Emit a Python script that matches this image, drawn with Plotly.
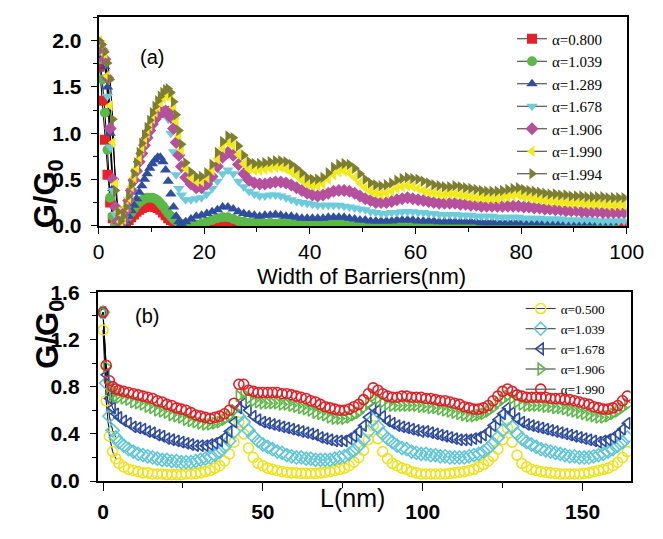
import plotly.graph_objects as go

# ---------------- panel (a) data ----------------
x_top = [round(0.2 + 0.5 * i, 1) for i in range(32)] + [16.5 + i for i in range(84)]

alpha_top = ["α=0.800", "α=1.039", "α=1.289", "α=1.678", "α=1.906", "α=1.990", "α=1.994"]

g_red = [1.72, 1.35, 0.93, 0.55, 0.25, 0.08, 0.01, 0.0, 0.01, 0.02, 0.04, 0.06, 0.09, 0.12, 0.15, 0.17,
         0.19, 0.2, 0.21, 0.21, 0.21, 0.2, 0.19, 0.17, 0.14, 0.11, 0.08, 0.06, 0.04, 0.02, 0.01, 0.0,
         0.0, 0.0, 0.0, 0.0, 0.01, 0.02, 0.03, 0.04, 0.04, 0.03, 0.02, 0.01,
         0.01, 0.01, 0.01, 0.01, 0.01, 0.01, 0.01, 0.01, 0.01, 0.01, 0.01, 0.01, 0.01, 0.01, 0.01, 0.01,
         0.01, 0.01, 0.01, 0.01, 0.01, 0.01, 0.0, 0.0, 0.0, 0.0, 0.0, 0.0, 0.0, 0.0, 0.0, 0.0,
         0.0, 0.0, 0.0, 0.0, 0.0, 0.0, 0.0, 0.0, 0.0, 0.0, 0.0, 0.0, 0.0, 0.0, 0.0, 0.0,
         0.0, 0.0, 0.0, 0.0, 0.0, 0.0, 0.0, 0.0, 0.0, 0.0, 0.0, 0.0, 0.0, 0.0, 0.0, 0.0,
         0.0, 0.0, 0.0, 0.0, 0.0, 0.0, 0.0, 0.0]
g_green = [1.8, 1.58, 1.22, 0.82, 0.3, 0.1, 0.02, 0.0, 0.01, 0.03, 0.06, 0.1, 0.14, 0.18, 0.22, 0.25,
           0.27, 0.29, 0.3, 0.3, 0.3, 0.29, 0.27, 0.24, 0.21, 0.17, 0.13, 0.1, 0.07, 0.05, 0.03, 0.02,
           0.01, 0.0, 0.01, 0.02, 0.04, 0.06, 0.08, 0.09, 0.09, 0.07, 0.05, 0.04, 0.03, 0.03,
           0.03, 0.02, 0.03, 0.02, 0.03, 0.02, 0.03, 0.02, 0.02, 0.02, 0.03, 0.02, 0.02, 0.02, 0.02, 0.02,
           0.02, 0.02, 0.02, 0.02, 0.02, 0.01, 0.02, 0.01, 0.02, 0.01, 0.02, 0.01, 0.01, 0.02, 0.01, 0.01,
           0.02, 0.01, 0.01, 0.01, 0.02, 0.01, 0.01, 0.01, 0.01, 0.01, 0.01, 0.01, 0.01, 0.01, 0.01, 0.01,
           0.01, 0.01, 0.01, 0.01, 0.01, 0.01, 0.01, 0.01, 0.01, 0.01, 0.01, 0.01, 0.01, 0.01, 0.01, 0.01,
           0.01, 0.01, 0.01, 0.01]
g_blue = [1.88, 1.82, 1.72, 1.5, 1.0, 0.4, 0.16, 0.05, 0.01, 0.02, 0.05, 0.1, 0.16, 0.22, 0.29, 0.36,
          0.43, 0.5, 0.56, 0.62, 0.67, 0.71, 0.74, 0.74, 0.69, 0.6, 0.48, 0.34, 0.2, 0.1, 0.04, 0.02,
          0.04, 0.07, 0.1, 0.11, 0.13, 0.15, 0.17, 0.2, 0.2, 0.18, 0.15, 0.13, 0.12, 0.11,
          0.1, 0.11, 0.11, 0.12, 0.11, 0.1, 0.1, 0.09, 0.08, 0.08, 0.08, 0.08, 0.08, 0.09, 0.09, 0.09,
          0.09, 0.08, 0.07, 0.06, 0.06, 0.05, 0.05, 0.05, 0.05, 0.05, 0.06, 0.06, 0.06, 0.06, 0.05, 0.05,
          0.05, 0.05, 0.04, 0.04, 0.04, 0.04, 0.04, 0.04, 0.04, 0.04, 0.03, 0.03, 0.03, 0.03, 0.03, 0.03,
          0.03, 0.03, 0.03, 0.03, 0.03, 0.03, 0.03, 0.03, 0.03, 0.03, 0.03, 0.03, 0.03, 0.03, 0.03, 0.03,
          0.03, 0.03, 0.03, 0.03]
g_cyan = [1.92, 1.88, 1.78, 1.4, 0.85, 0.38, 0.12, 0.03, 0.02, 0.08, 0.18, 0.28, 0.38, 0.48, 0.58, 0.67,
          0.76, 0.85, 0.93, 1.0, 1.07, 1.13, 1.17, 1.2, 1.22, 1.22, 1.15, 1.0, 0.8, 0.55, 0.4, 0.33,
          0.28, 0.28, 0.29, 0.3, 0.34, 0.4, 0.48, 0.56, 0.6, 0.56, 0.48, 0.42, 0.37, 0.34,
          0.32, 0.32, 0.33, 0.33, 0.32, 0.3, 0.28, 0.26, 0.25, 0.24, 0.23, 0.22, 0.22, 0.22, 0.22, 0.22,
          0.21, 0.2, 0.19, 0.18, 0.17, 0.15, 0.14, 0.13, 0.13, 0.14, 0.14, 0.15, 0.15, 0.15, 0.14, 0.14,
          0.13, 0.13, 0.12, 0.12, 0.12, 0.12, 0.11, 0.11, 0.11, 0.1, 0.1, 0.1, 0.1, 0.09, 0.09, 0.09,
          0.09, 0.09, 0.08, 0.08, 0.08, 0.08, 0.07, 0.07, 0.07, 0.07, 0.06, 0.06, 0.06, 0.06, 0.06, 0.06,
          0.05, 0.05, 0.05, 0.05, 0.05, 0.05]
g_mag = [1.95, 1.9, 1.8, 1.6, 1.05, 0.5, 0.2, 0.05, 0.02, 0.06, 0.16, 0.27, 0.38, 0.49, 0.59, 0.69,
         0.78, 0.87, 0.95, 1.03, 1.1, 1.15, 1.19, 1.22, 1.23, 1.24, 1.23, 1.17, 1.05, 0.9, 0.76, 0.64,
         0.52, 0.45, 0.41, 0.41, 0.45, 0.53, 0.64, 0.74, 0.79, 0.76, 0.66, 0.56, 0.49, 0.46,
         0.45, 0.45, 0.46, 0.47, 0.47, 0.46, 0.44, 0.41, 0.38, 0.35, 0.33, 0.32, 0.33, 0.35, 0.37, 0.38,
         0.38, 0.37, 0.35, 0.32, 0.29, 0.27, 0.25, 0.25, 0.25, 0.26, 0.28, 0.29, 0.3, 0.29, 0.28, 0.27,
         0.26, 0.25, 0.24, 0.24, 0.24, 0.24, 0.23, 0.23, 0.22, 0.22, 0.21, 0.21, 0.21, 0.21, 0.21, 0.21,
         0.21, 0.21, 0.2, 0.2, 0.19, 0.19, 0.18, 0.18, 0.17, 0.17, 0.16, 0.16, 0.16, 0.15, 0.15, 0.15,
         0.15, 0.14, 0.14, 0.14, 0.14, 0.14]
g_yel = [2.0, 1.95, 1.85, 1.62, 1.3, 0.9, 0.45, 0.15, 0.04, 0.07, 0.2, 0.3, 0.42, 0.52, 0.62, 0.72,
         0.82, 0.91, 1.0, 1.08, 1.16, 1.23, 1.29, 1.34, 1.38, 1.41, 1.42, 1.38, 1.28, 1.13, 0.97, 0.82,
         0.62, 0.52, 0.48, 0.48, 0.52, 0.6, 0.72, 0.84, 0.9, 0.87, 0.77, 0.67, 0.61, 0.6,
         0.6, 0.61, 0.62, 0.63, 0.63, 0.61, 0.58, 0.54, 0.49, 0.45, 0.43, 0.43, 0.45, 0.5, 0.55, 0.58,
         0.59, 0.57, 0.52, 0.46, 0.41, 0.37, 0.35, 0.34, 0.35, 0.37, 0.4, 0.42, 0.43, 0.42, 0.4, 0.38,
         0.36, 0.35, 0.34, 0.33, 0.34, 0.34, 0.33, 0.32, 0.31, 0.3, 0.3, 0.29, 0.29, 0.29, 0.3, 0.31,
         0.32, 0.33, 0.31, 0.3, 0.29, 0.28, 0.27, 0.26, 0.26, 0.25, 0.25, 0.24, 0.24, 0.24, 0.23, 0.23,
         0.23, 0.23, 0.22, 0.22, 0.22, 0.22]
g_olv = [2.0, 1.96, 1.88, 1.76, 1.58, 1.15, 0.38, 0.15, 0.05, 0.1, 0.2, 0.32, 0.44, 0.56, 0.68, 0.79,
         0.89, 0.98, 1.06, 1.14, 1.22, 1.29, 1.35, 1.4, 1.44, 1.47, 1.48, 1.44, 1.34, 1.2, 1.03, 0.88,
         0.68, 0.58, 0.53, 0.53, 0.57, 0.66, 0.79, 0.91, 0.97, 0.95, 0.86, 0.76, 0.69, 0.67,
         0.67, 0.68, 0.69, 0.7, 0.7, 0.69, 0.66, 0.62, 0.57, 0.52, 0.5, 0.5, 0.52, 0.57, 0.63, 0.66,
         0.67, 0.66, 0.62, 0.56, 0.5, 0.46, 0.44, 0.43, 0.44, 0.46, 0.49, 0.51, 0.52, 0.51, 0.5, 0.48,
         0.46, 0.44, 0.43, 0.42, 0.42, 0.43, 0.42, 0.41, 0.4, 0.39, 0.38, 0.37, 0.37, 0.37, 0.38, 0.39,
         0.4, 0.41, 0.39, 0.38, 0.37, 0.36, 0.35, 0.34, 0.34, 0.33, 0.33, 0.32, 0.32, 0.32, 0.31, 0.31,
         0.31, 0.31, 0.3, 0.3, 0.3, 0.3]

# ---------------- panel (b) data ----------------
x_bot = [0, 1, 2, 3, 4, 5] + [6.5 + 1.5 * i for i in range(106)]

alpha_bot = ["α=0.500", "α=1.039", "α=1.678", "α=1.906", "α=1.990"]

b_yel = [1.28, 0.68, 0.38, 0.25, 0.19, 0.15, 0.12, 0.1, 0.09, 0.08, 0.07, 0.07, 0.06, 0.06, 0.06, 0.055,
         0.055, 0.055, 0.055, 0.06, 0.06, 0.065, 0.07, 0.08, 0.09, 0.11, 0.13, 0.17, 0.23, 0.33, 0.5, 0.4,
         0.28, 0.2, 0.15, 0.13, 0.11, 0.1, 0.09, 0.08, 0.075, 0.07, 0.07, 0.065, 0.065, 0.065, 0.065, 0.07,
         0.075, 0.08, 0.09, 0.1, 0.11, 0.13, 0.16, 0.2, 0.26, 0.35, 0.47, 0.36, 0.25, 0.19, 0.15, 0.13,
         0.11, 0.1, 0.08, 0.07, 0.06, 0.06, 0.06, 0.06, 0.06, 0.06, 0.065, 0.07, 0.075, 0.08, 0.09, 0.1,
         0.12, 0.14, 0.17, 0.21, 0.27, 0.35, 0.45, 0.33, 0.22, 0.15, 0.12, 0.1, 0.09, 0.08, 0.075, 0.07,
         0.065, 0.06, 0.06, 0.06, 0.06, 0.06, 0.065, 0.07, 0.08, 0.09, 0.1, 0.11, 0.13, 0.16, 0.2, 0.25]
b_cyan = [1.43, 0.83, 0.55, 0.43, 0.37, 0.33, 0.3, 0.27, 0.25, 0.23, 0.22, 0.21, 0.2, 0.19, 0.18, 0.18,
          0.17, 0.17, 0.16, 0.16, 0.16, 0.17, 0.18, 0.19, 0.2, 0.22, 0.25, 0.29, 0.34, 0.42, 0.55, 0.5,
          0.43, 0.38, 0.34, 0.31, 0.29, 0.27, 0.25, 0.24, 0.22, 0.21, 0.2, 0.2, 0.19, 0.19, 0.18, 0.18,
          0.18, 0.18, 0.19, 0.2, 0.21, 0.23, 0.26, 0.3, 0.35, 0.42, 0.52, 0.46, 0.4, 0.36, 0.33, 0.3,
          0.28, 0.27, 0.25, 0.24, 0.23, 0.23, 0.22, 0.22, 0.21, 0.21, 0.2, 0.2, 0.2, 0.2, 0.21, 0.22,
          0.23, 0.25, 0.28, 0.32, 0.37, 0.43, 0.52, 0.46, 0.4, 0.36, 0.33, 0.31, 0.29, 0.27, 0.26, 0.25,
          0.24, 0.23, 0.22, 0.21, 0.21, 0.2, 0.2, 0.2, 0.21, 0.22, 0.23, 0.25, 0.27, 0.3, 0.33, 0.37]
b_blue = [1.43, 0.9, 0.7, 0.62, 0.57, 0.54, 0.51, 0.49, 0.46, 0.45, 0.44, 0.42, 0.41, 0.39, 0.38, 0.36,
          0.35, 0.34, 0.33, 0.32, 0.31, 0.3, 0.3, 0.3, 0.31, 0.32, 0.34, 0.37, 0.42, 0.5, 0.62, 0.66,
          0.6, 0.55, 0.52, 0.5, 0.49, 0.48, 0.47, 0.46, 0.45, 0.44, 0.43, 0.42, 0.41, 0.4, 0.39, 0.37,
          0.36, 0.35, 0.34, 0.34, 0.34, 0.36, 0.38, 0.42, 0.47, 0.54, 0.62, 0.6, 0.55, 0.51, 0.49, 0.47,
          0.46, 0.45, 0.44, 0.43, 0.42, 0.42, 0.41, 0.4, 0.39, 0.38, 0.37, 0.36, 0.35, 0.35, 0.35, 0.36,
          0.37, 0.39, 0.42, 0.47, 0.52, 0.57, 0.62, 0.58, 0.53, 0.5, 0.48, 0.47, 0.46, 0.45, 0.44, 0.43,
          0.42, 0.41, 0.4, 0.39, 0.38, 0.37, 0.36, 0.35, 0.34, 0.33, 0.34, 0.35, 0.37, 0.4, 0.44, 0.49]
b_green = [1.43, 0.97, 0.8, 0.74, 0.72, 0.71, 0.7, 0.69, 0.67, 0.66, 0.65, 0.63, 0.62, 0.6, 0.59, 0.58,
           0.56, 0.55, 0.54, 0.52, 0.51, 0.5, 0.49, 0.48, 0.48, 0.49, 0.5, 0.52, 0.55, 0.6, 0.72, 0.74,
           0.7, 0.68, 0.67, 0.66, 0.66, 0.66, 0.66, 0.65, 0.65, 0.64, 0.63, 0.62, 0.61, 0.6, 0.58, 0.57,
           0.56, 0.54, 0.53, 0.53, 0.53, 0.54, 0.56, 0.58, 0.62, 0.66, 0.72, 0.7, 0.67, 0.65, 0.64, 0.64,
           0.64, 0.64, 0.64, 0.64, 0.63, 0.63, 0.62, 0.62, 0.61, 0.6, 0.59, 0.58, 0.57, 0.56, 0.55, 0.55,
           0.56, 0.57, 0.59, 0.62, 0.66, 0.69, 0.72, 0.7, 0.67, 0.65, 0.64, 0.64, 0.64, 0.64, 0.63, 0.63,
           0.62, 0.62, 0.61, 0.6, 0.59, 0.58, 0.57, 0.56, 0.55, 0.54, 0.54, 0.55, 0.57, 0.59, 0.62, 0.65]
b_red = [1.43, 0.98, 0.85, 0.8, 0.78, 0.77, 0.76, 0.75, 0.74, 0.73, 0.72, 0.71, 0.7, 0.68, 0.67, 0.65,
         0.64, 0.62, 0.61, 0.6, 0.58, 0.56, 0.55, 0.54, 0.53, 0.54, 0.55, 0.57, 0.6, 0.66, 0.82, 0.82,
         0.77, 0.76, 0.75, 0.75, 0.75, 0.75, 0.75, 0.74, 0.74, 0.73, 0.72, 0.71, 0.7, 0.68, 0.67, 0.65,
         0.63, 0.62, 0.61, 0.6, 0.6, 0.61, 0.63, 0.65, 0.69, 0.74, 0.79, 0.77, 0.74, 0.72, 0.71, 0.71,
         0.72, 0.72, 0.71, 0.71, 0.71, 0.7, 0.7, 0.69, 0.68, 0.68, 0.67, 0.66, 0.65, 0.63, 0.62, 0.61,
         0.61, 0.62, 0.64, 0.68, 0.72, 0.76, 0.78, 0.76, 0.73, 0.72, 0.71, 0.71, 0.71, 0.71, 0.71, 0.7,
         0.7, 0.7, 0.69, 0.69, 0.68, 0.67, 0.66, 0.65, 0.63, 0.62, 0.61, 0.61, 0.62, 0.64, 0.68, 0.72]

top_series = [g_red, g_green, g_blue, g_cyan, g_mag, g_yel, g_olv]
top_colors = ["#E8202A", "#5CB847", "#2F4E9F", "#6DCBDB", "#B5509D", "#F3EA1B", "#7E7E30"]
top_symbols = ["square", "circle", "triangle-up", "triangle-down", "diamond", "triangle-left", "triangle-right"]

bot_series = [b_yel, b_cyan, b_blue, b_green, b_red]
bot_colors = ["#F0E21B", "#5FC6D8", "#2D4A9C", "#5DB847", "#E41E26"]
bot_symbols = ["circle-open", "diamond-open", "triangle-left-open", "triangle-right-open", "circle-open"]

N_LINE_TOP = 9   # connecting black line visible only in the steep initial drop
N_LINE_BOT = 5

fig = go.Figure()

# panel (a): black connecting lines under markers
for ys in top_series:
    fig.add_trace(go.Scatter(x=x_top[:N_LINE_TOP], y=ys[:N_LINE_TOP], mode="lines",
                             line=dict(color="black", width=1), showlegend=False,
                             hoverinfo="skip", xaxis="x", yaxis="y"))
for name, ys, c, s in zip(alpha_top, top_series, top_colors, top_symbols):
    fig.add_trace(go.Scatter(
        x=x_top, y=ys, name=name, mode="markers", xaxis="x", yaxis="y",
        marker=dict(symbol=s, color=c, size=10, line=dict(width=0)), showlegend=False))
# legend entries for panel (a)
for name, c, s in zip(alpha_top, top_colors, top_symbols):
    fig.add_trace(go.Scatter(
        x=[None], y=[None], name=name, mode="lines+markers", xaxis="x", yaxis="y",
        line=dict(color="#333333", width=1),
        marker=dict(symbol=s, color=c, size=10, line=dict(width=0)), legend="legend"))

# panel (b)
for ys in bot_series:
    fig.add_trace(go.Scatter(x=x_bot[:N_LINE_BOT], y=ys[:N_LINE_BOT], mode="lines",
                             line=dict(color="black", width=1), showlegend=False,
                             hoverinfo="skip", xaxis="x2", yaxis="y2"))
for name, ys, c, s in zip(alpha_bot, bot_series, bot_colors, bot_symbols):
    fig.add_trace(go.Scatter(
        x=x_bot, y=ys, name=name, mode="markers", xaxis="x2", yaxis="y2",
        marker=dict(symbol=s, color=c, size=10, line=dict(width=1.6, color=c)), showlegend=False))
for name, c, s in zip(alpha_bot, bot_colors, bot_symbols):
    fig.add_trace(go.Scatter(
        x=[None], y=[None], name=name, mode="lines+markers", xaxis="x2", yaxis="y2",
        line=dict(color="#333333", width=1),
        marker=dict(symbol=s, color=c, size=10, line=dict(width=1.6, color=c)), legend="legend2"))

W, H = 663, 539
FONT = "Liberation Sans, Arial, sans-serif"
SERIF = "Liberation Serif, Times New Roman, serif"

def ax_common(**kw):
    d = dict(showline=True, linecolor="black", linewidth=1.5, mirror=True,
             ticks="outside", ticklen=6, tickwidth=1.3, tickcolor="black",
             showgrid=False, zeroline=False)
    d.update(kw)
    return d

def overlay(**kw):
    d = dict(showline=False, ticks="inside", ticklen=6, tickwidth=1.3, tickcolor="black",
             showticklabels=False, showgrid=False, zeroline=False)
    d.update(kw)
    return d

top_xr = [0, 100]
top_yr = [-0.01, 2.26]
bot_xr = [-1.7, 165]
bot_yr = [0, 1.6]

fig.update_layout(
    width=W, height=H, margin=dict(l=0, r=0, t=0, b=0),
    paper_bgcolor="white", plot_bgcolor="white",
    xaxis=ax_common(domain=[96 / W, 644 / W], anchor="y", range=top_xr, dtick=20,
                    tickfont=dict(family=FONT, size=21, color="black"),
                    minor=dict(dtick=10, ticks="outside", ticklen=4, tickcolor="black")),
    yaxis=ax_common(domain=[1 - 224 / H, 1 - 5 / H], anchor="x", range=top_yr, dtick=0.5,
                    tickformat=".1f", ticklabelstandoff=5,
                    tickfont=dict(family=FONT, size=21, color="black", weight="bold"),
                    minor=dict(dtick=0.25, ticks="outside", ticklen=4, tickcolor="black")),
    xaxis3=overlay(overlaying="x", side="top", anchor="y", range=top_xr, dtick=10),
    yaxis3=overlay(overlaying="y", side="right", anchor="x", range=top_yr, dtick=0.25),
    xaxis2=ax_common(domain=[95 / W, 648 / W], anchor="y2", range=bot_xr, dtick=50,
                     ticklen=8, ticklabelstandoff=3,
                     tickfont=dict(family=FONT, size=21, color="black", weight="bold"),
                     minor=dict(dtick=25, ticks="outside", ticklen=5, tickcolor="black")),
    yaxis2=ax_common(domain=[1 - 490 / H, 1 - 292.7 / H], anchor="x2", range=bot_yr, dtick=0.4,
                     tickformat=".1f", ticklabelstandoff=6,
                     tickfont=dict(family=FONT, size=21, color="black", weight="bold"),
                     minor=dict(dtick=0.2, ticks="outside", ticklen=4, tickcolor="black")),
    xaxis4=overlay(overlaying="x2", side="top", anchor="y2", range=bot_xr, dtick=25),
    yaxis4=overlay(overlaying="y2", side="right", anchor="x2", range=bot_yr, dtick=0.2),
    legend=dict(x=525 / W, y=1 - 11 / H, xanchor="left", yanchor="top",
                bgcolor="rgba(0,0,0,0)", borderwidth=0, tracegroupgap=0,
                font=dict(family=SERIF, size=15, color="black")),
    legend2=dict(x=534 / W, y=1 - 294 / H, xanchor="left", yanchor="top",
                 bgcolor="rgba(0,0,0,0)", borderwidth=0, tracegroupgap=0,
                 font=dict(family=SERIF, size=13.2, color="black")),
    showlegend=True,
)

annotations = [
    dict(text="(a)", x=137 / W, y=1 - 33 / H, xref="paper", yref="paper", showarrow=False,
         font=dict(family=FONT, size=20, color="black")),
    dict(text="(b)", x=132 / W, y=1 - 318 / H, xref="paper", yref="paper", showarrow=False,
         font=dict(family=FONT, size=20, color="black")),
    dict(text="Width of Barriers(nm)", x=369 / W, y=1 - 276 / H, xref="paper", yref="paper",
         showarrow=False, font=dict(family=FONT, size=22, color="black")),
    dict(text="L(nm)", x=359 / W, y=1 - 524 / H, xref="paper", yref="paper",
         showarrow=False, font=dict(family=FONT, size=25, color="black")),
    dict(text="<b>G/G<sub>0</sub></b>", x=21 / W, y=1 - 152 / H, xref="paper", yref="paper",
         showarrow=False, textangle=-90, font=dict(family=FONT, size=31, color="black")),
    dict(text="<b>G/G<sub>0</sub></b>", x=23 / W, y=1 - 375 / H, xref="paper", yref="paper",
         showarrow=False, textangle=-90, font=dict(family=FONT, size=31, color="black")),
]
fig.update_layout(annotations=annotations)

fig.write_html("out.html")
